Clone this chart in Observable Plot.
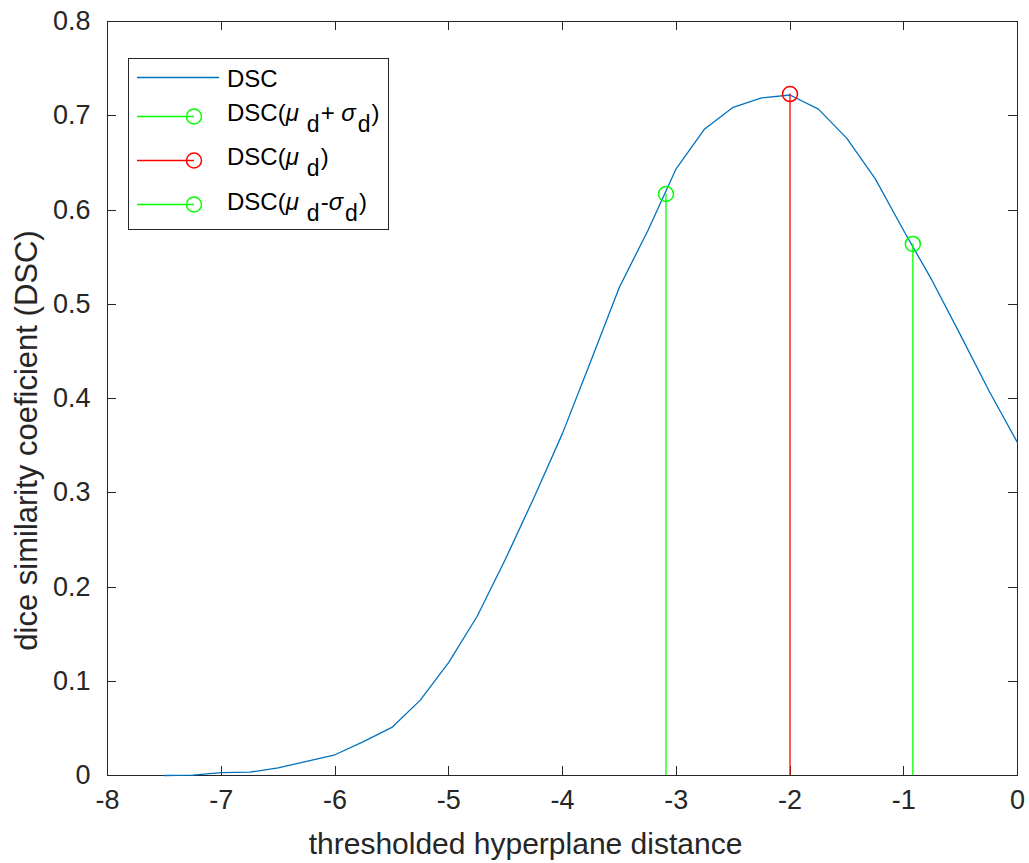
<!DOCTYPE html>
<html><head><meta charset="utf-8">
<script src="https://cdn.jsdelivr.net/npm/d3@7"></script>
<script src="https://cdn.jsdelivr.net/npm/@observablehq/plot@0.6"></script>
<style>
body{margin:0;background:#fff;}
#chart{width:1029px;height:863px;}
</style></head><body><div id="chart"></div>
<script>
// ---- data ----
const distance = [-7.5, -7.25, -7.0, -6.75, -6.5, -6.25, -6.0, -5.75, -5.5, -5.25, -5.0, -4.75, -4.5, -4.25, -4.0, -3.75, -3.5, -3.25, -3.0, -2.75, -2.5, -2.25, -2.0, -1.75, -1.5, -1.25, -1.0, -0.75, -0.5, -0.25, 0];
const dsc = [0, 0.0003, 0.003, 0.0035, 0.008, 0.015, 0.022, 0.036, 0.051, 0.080, 0.120, 0.169, 0.230, 0.295, 0.363, 0.440, 0.518, 0.578, 0.644, 0.686, 0.709, 0.719, 0.722, 0.707, 0.676, 0.633, 0.578, 0.525, 0.467, 0.408, 0.353];
const stemNames = ["DSC(mu+sigma)", "DSC(mu)", "DSC(mu-sigma)"];
const stemX = [-3.09, -2.0, -0.92];
const stemY = [0.617, 0.723, 0.564];
const stemColors = ["#00ff00", "#ff0000", "#00ff00"];
const xTicks = [-8, -7, -6, -5, -4, -3, -2, -1, 0];
const yTicks = [0, 0.1, 0.2, 0.3, 0.4, 0.5, 0.6, 0.7, 0.8];
const xLabel = "thresholded hyperplane distance";
const yLabel = "dice similarity coeficient (DSC)";
const lineColor = "#0072BD";
const axisColor = "#262626";
// legend labels as [text, style] parts (style: "" normal, "i" italic, "sub" subscript)
const legendRows = [
  {color: lineColor, marker: false, parts: [["DSC", ""]]},
  {color: "#00ff00", marker: true, parts: [["DSC(", ""], ["μ", "i"], ["d", "sub"], ["+ ", ""], ["σ", "i"], ["d", "sub"], [")", ""]]},
  {color: "#ff0000", marker: true, parts: [["DSC(", ""], ["μ", "i"], ["d", "sub"], [")", ""]]},
  {color: "#00ff00", marker: true, parts: [["DSC(", ""], ["μ", "i"], ["d", "sub"], ["-", ""], ["σ", "i"], ["d", "sub"], [")", ""]]}
];

const curve = distance.map((x, i) => ({x, y: dsc[i]}));
const stems = stemX.map((x, i) => ({name: stemNames[i], x, y: stemY[i], color: stemColors[i]}));

const FONT = '"Liberation Sans", Arial, Helvetica, sans-serif';

function boxTicks(index, scales, values, dims) {
  const {x, y} = scales;
  const L = dims.marginLeft, R = dims.width - dims.marginRight;
  const T = dims.marginTop, B = dims.height - dims.marginBottom;
  const len = 9;
  const g = d3.create("svg:g").attr("stroke", axisColor).attr("stroke-width", 1).attr("fill", "none");
  for (const t of xTicks) {
    const px = Math.round(x(t)) + 0.5;
    g.append("line").attr("x1", px).attr("x2", px).attr("y1", B).attr("y2", B - len);
    g.append("line").attr("x1", px).attr("x2", px).attr("y1", T).attr("y2", T + len);
  }
  for (const t of yTicks) {
    const py = Math.round(y(t)) + 0.5;
    g.append("line").attr("x1", L).attr("x2", L + len).attr("y1", py).attr("y2", py);
    g.append("line").attr("x1", R).attr("x2", R - len).attr("y1", py).attr("y2", py);
  }
  return g.node();
}

function legend(index, scales, values, dims) {
  const g = d3.create("svg:g");
  g.append("rect").attr("x", 128.5).attr("y", 58.5).attr("width", 260).attr("height", 171)
    .attr("fill", "white").attr("stroke", axisColor).attr("stroke-width", 1);
  const rowY = [77.5, 116.5, 160.5, 204.5];
  const baseY = [86.5, 120.5, 165, 209.5];
  legendRows.forEach((row, i) => {
    const yy = rowY[i];
    if (row.marker) {
      g.append("line").attr("x1", 137).attr("x2", 194).attr("y1", yy).attr("y2", yy)
        .attr("stroke", row.color).attr("stroke-width", 1.3);
      g.append("circle").attr("cx", 194).attr("cy", yy).attr("r", 7.5)
        .attr("fill", "none").attr("stroke", row.color).attr("stroke-width", 1.5);
    } else {
      g.append("line").attr("x1", 137).attr("x2", 219).attr("y1", yy).attr("y2", yy)
        .attr("stroke", row.color).attr("stroke-width", 1.3);
    }
    const t = g.append("text").attr("x", 227).attr("y", baseY[i])
      .attr("text-anchor", "start")
      .attr("font-size", 24).attr("fill", "#000").attr("font-family", FONT);
    let shift = 0, prev = "";
    row.parts.forEach(([s, st]) => {
      const sp = t.append("tspan").text(s);
      if (st === "sub") {
        sp.attr("dx", prev === "μ" ? 8 : 2).attr("dy", 11 - shift).attr("font-size", 23); shift = 11;
      } else {
        if (shift) { sp.attr("dy", -shift); shift = 0; sp.attr("dx", 1); }
        if (st === "i") sp.attr("font-style", "italic");
      }
      prev = s;
    });
  });
  return g.node();
}

const plot = Plot.plot({
  width: 1029,
  height: 863,
  marginLeft: 107,
  marginRight: 12,
  marginTop: 21,
  marginBottom: 88,
  style: {fontFamily: FONT, color: axisColor, background: "white", overflow: "visible"},
  x: {domain: [-8, 0]},
  y: {domain: [0, 0.8]},
  color: {type: "identity"},
  marks: [
    Plot.frame({stroke: axisColor, strokeWidth: 1}),
    boxTicks,
    Plot.axisX({ticks: xTicks, tickSize: 0, tickPadding: 14, fontSize: 27, tickFormat: d => String(d), label: null}),
    Plot.axisY({ticks: yTicks, tickSize: 0, tickPadding: 17, fontSize: 27, tickFormat: d => String(d), label: null}),
    Plot.text([xLabel], {text: d => d, frameAnchor: "bottom", dx: -37, dy: 69, fontSize: 30, lineAnchor: "middle", textAnchor: "middle", fill: axisColor}),
    Plot.text([yLabel], {text: d => d, frameAnchor: "left", rotate: -90, dx: -80, dy: 42, fontSize: 31, lineAnchor: "middle", textAnchor: "middle", fill: axisColor}),
    Plot.line(curve, {x: "x", y: "y", stroke: lineColor, strokeWidth: 1.3}),
    Plot.ruleX(stems, {x: "x", y1: 0, y2: "y", stroke: "color", strokeWidth: 1.3}),
    Plot.dot(stems, {x: "x", y: "y", r: 7.5, stroke: "color", strokeWidth: 1.5, fill: "none"}),
    legend
  ]
});
document.getElementById("chart").appendChild(plot);
</script></body></html>
